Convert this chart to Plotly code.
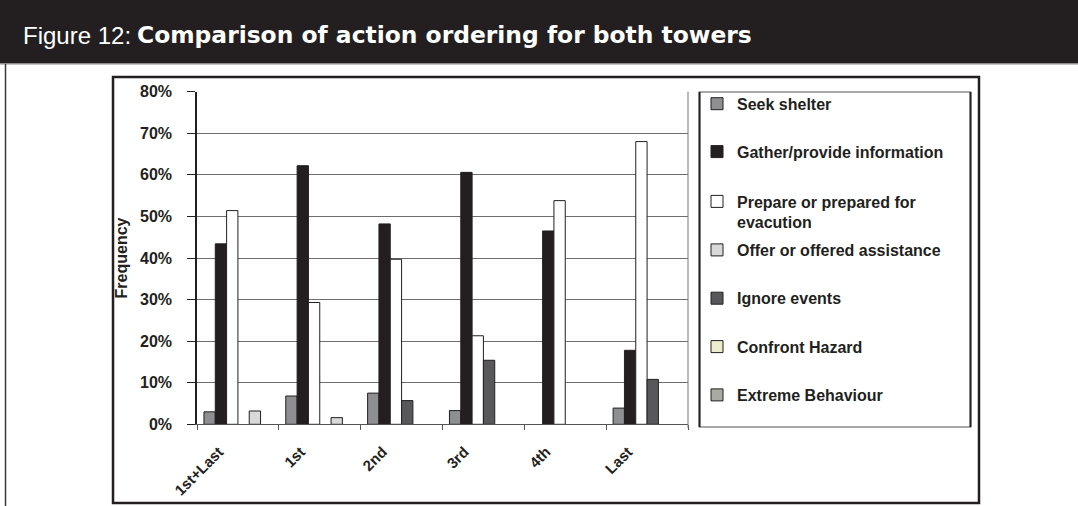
import plotly.graph_objects as go

W, H = 1078, 506

# ---------------- data ----------------
categories = ["1st+Last", "1st", "2nd", "3rd", "4th", "Last"]
seek_shelter = [3.0, 6.8, 7.5, 3.3, 0, 3.9]
gather_info = [43.4, 62.2, 48.2, 60.6, 46.5, 17.8]
prepare_evac = [51.4, 29.3, 39.7, 21.3, 53.8, 68.0]
ignore_events = [0, 0, 5.7, 15.4, 0, 10.8]
offer_assist = [3.2, 1.6, 0, 0, 0, 0]
confront_hazard = [0, 0, 0, 0, 0, 0]
extreme_behaviour = [0, 0, 0, 0, 0, 0]
y_ticks = [0, 10, 20, 30, 40, 50, 60, 70, 80]
y_tick_text = [f"{v}%" for v in y_ticks]

TXT = "#231f20"
FONT = "Liberation Sans, Arial, Helvetica, sans-serif"


def px_x(p):
    return p / W


def px_y(p):
    return 1 - p / H


# (name, values, colour, offsetgroup, legend id, legend text centre px, valign)
series = [
    ("Seek shelter", seek_shelter, "#8e8f91", "a", "legend", 103.8, "middle"),
    ("Gather/provide information", gather_info, "#231f20", "b", "legend2", 151.7, "middle"),
    ("Prepare or prepared for<br>evacution", prepare_evac, "#ffffff", "c", "legend3", 212.0, "top"),
    ("Ignore events", ignore_events, "#58585a", "d", "legend5", 298.3, "middle"),
    ("Offer or offered assistance", offer_assist, "#d9d9d9", "e", "legend4", 250.0, "middle"),
    ("Confront Hazard", confront_hazard, "#ececcf", "f", "legend6", 346.7, "middle"),
    ("Extreme Behaviour", extreme_behaviour, "#a9aba3", "f", "legend7", 395.0, "middle"),
]

fig = go.Figure()
legend_layouts = {}
for name, vals, col, og, lg, ypx, valign in series:
    fig.add_trace(go.Bar(
        x=categories, y=[v if v else None for v in vals], name=name,
        marker=dict(color=col, line=dict(color=TXT, width=1)),
        offsetgroup=og, legend=lg, hoverinfo="skip",
    ))
    legend_layouts[lg] = dict(
        x=px_x(697), y=px_y(ypx), xanchor="left", yanchor="middle",
        bgcolor="rgba(0,0,0,0)", borderwidth=0, valign=valign,
        font=dict(family=FONT, size=16, color=TXT, weight="bold"),
        itemwidth=30,
    )

shapes = [
    # title bar
    dict(type="rect", xref="paper", yref="paper", x0=0, x1=1, y0=px_y(63.5), y1=1,
         fillcolor="#231f20", line=dict(width=0), layer="below"),
    dict(type="line", xref="paper", yref="paper", x0=0, x1=1, y0=px_y(64), y1=px_y(64),
         line=dict(color="#8a8a8a", width=1)),
    # outer left rule
    dict(type="line", xref="paper", yref="paper", x0=px_x(5.5), x1=px_x(5.5), y0=px_y(64), y1=0,
         line=dict(color="#3a3a3a", width=1.5)),
    # chart box
    dict(type="rect", xref="paper", yref="paper", x0=px_x(113), x1=px_x(979), y0=px_y(503), y1=px_y(77),
         line=dict(color=TXT, width=2.5), layer="below"),
    # legend box
    dict(type="rect", xref="paper", yref="paper", x0=px_x(699.5), x1=px_x(970.5), y0=px_y(427), y1=px_y(92),
         line=dict(color="#8c8c8c", width=1.5), layer="below"),
    dict(type="line", xref="paper", yref="paper", x0=px_x(699.5), x1=px_x(699.5), y0=px_y(427), y1=px_y(92),
         line=dict(color=TXT, width=2)),
    dict(type="line", xref="paper", yref="paper", x0=px_x(970.5), x1=px_x(970.5), y0=px_y(427), y1=px_y(92),
         line=dict(color=TXT, width=2)),
    # plot-area right border
    dict(type="line", xref="paper", yref="paper", x0=px_x(688), x1=px_x(688), y0=px_y(428), y1=px_y(91.7),
         line=dict(color="#777777", width=1)),
]

annotations = [
    dict(text="Figure 12:", xref="paper", yref="paper", x=px_x(21), y=px_y(35),
         xanchor="left", yanchor="middle", showarrow=False,
         font=dict(family=FONT, size=24, color="#ffffff")),
    dict(text="<b>Comparison of action ordering for both towers</b>", xref="paper", yref="paper",
         x=px_x(135), y=px_y(35), xanchor="left", yanchor="middle", showarrow=False,
         font=dict(family="DejaVu Sans", size=23.4, color="#ffffff")),
]

fig.update_layout(
    width=W, height=H,
    margin=dict(l=0, r=0, t=0, b=0, pad=0, autoexpand=False),
    paper_bgcolor="#ffffff", plot_bgcolor="#ffffff",
    barmode="group", bargap=0.17, bargroupgap=0,
    font=dict(family=FONT, color=TXT),
    shapes=shapes, annotations=annotations,
    showlegend=True,
    xaxis=dict(
        domain=[px_x(197), px_x(688)], automargin=False,
        type="category", tickson="boundaries", ticks="outside", ticklen=5,
        tickcolor="#555555", showline=True, linecolor="#555555", linewidth=1,
        showgrid=False, tickangle=-45,
        tickfont=dict(family=FONT, size=15, color=TXT, weight="bold"),
        ticklabelshift=-19, ticklabelstandoff=12,
    ),
    yaxis=dict(
        domain=[px_y(424.3), px_y(91.7)], automargin=False,
        range=[0, 80], tickmode="array", tickvals=y_ticks, ticktext=y_tick_text,
        showgrid=True, gridcolor="#6e6e6e", gridwidth=1, zeroline=False,
        ticks="outside", ticklen=8, tickcolor=TXT,
        showline=True, linecolor=TXT, linewidth=1.5,
        tickfont=dict(family=FONT, size=16, color=TXT, weight="bold"),
        ticklabelstandoff=12,
        title=dict(text="Frequency", standoff=8,
                   font=dict(family=FONT, size=16, color=TXT, weight="bold")),
    ),
    **legend_layouts,
)

fig.write_html("out.html", config={"displayModeBar": False},
               post_script="document.body.style.margin='0';")
